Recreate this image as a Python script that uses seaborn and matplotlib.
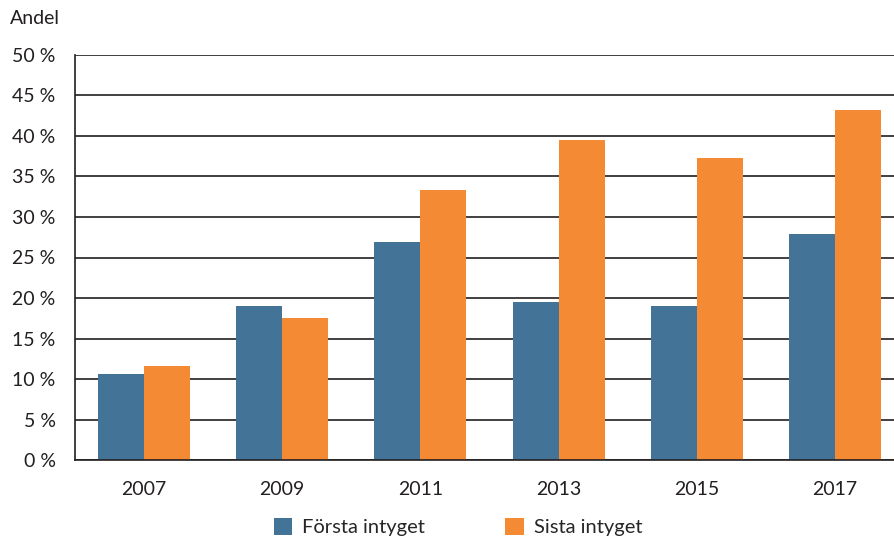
import pandas as pd
import matplotlib.pyplot as plt
import seaborn as sns

years = ['2007', '2009', '2011', '2013', '2015', '2017']
forsta = [10.6, 19.0, 26.9, 19.5, 19.0, 27.9]
sista = [11.6, 17.6, 33.3, 39.5, 37.3, 43.2]
series = ['Första intyget', 'Sista intyget']
colors = ['#437396', '#F48A33']
yticks = [0, 5, 10, 15, 20, 25, 30, 35, 40, 45, 50]

df = pd.DataFrame({
    'year': years * 2,
    'value': forsta + sista,
    'serie': [series[0]] * len(years) + [series[1]] * len(years),
})

sns.set_style('white')
plt.rcParams['font.family'] = ['Lato', 'DejaVu Sans']

fig = plt.figure(figsize=(8.94, 5.43), dpi=100)
ax = fig.add_axes([75 / 894, (543 - 460.3) / 543, 829 / 894, 405.6 / 543])

sns.barplot(data=df, x='year', y='value', hue='serie', palette=colors,
            width=0.667, saturation=1, linewidth=0, ax=ax)

ax.set_ylim(0, 50)
ax.set_xlim(-0.5, 5.5)
ax.set_yticks(yticks)
ax.set_yticklabels([f'{t} %' for t in yticks], fontsize=14, color='#231f20')
ax.tick_params(axis='y', length=5, width=1.2, color='#231f20', pad=9)
ax.tick_params(axis='x', length=0, pad=15, labelsize=14, labelcolor='#231f20')
ax.set_xlabel('')
ax.set_ylabel('')
ax.yaxis.grid(True, color='#231f20', linewidth=1.2)
ax.set_axisbelow(True)

for s in ['top', 'right']:
    ax.spines[s].set_visible(False)
for s in ['left', 'bottom']:
    ax.spines[s].set_color('#231f20')
    ax.spines[s].set_linewidth(1.2)

fig.text(10 / 894, 1 - 18 / 543, 'Andel', fontsize=14, color='#231f20', va='center')

ax.legend(loc='center', bbox_to_anchor=(458 / 894, 1 - 527 / 543),
          bbox_transform=fig.transFigure, ncol=2, frameon=False,
          fontsize=14.5, handlelength=0.9, handleheight=0.9,
          handletextpad=0.5, columnspacing=4.0)

plt.savefig('out.png', dpi=100)
